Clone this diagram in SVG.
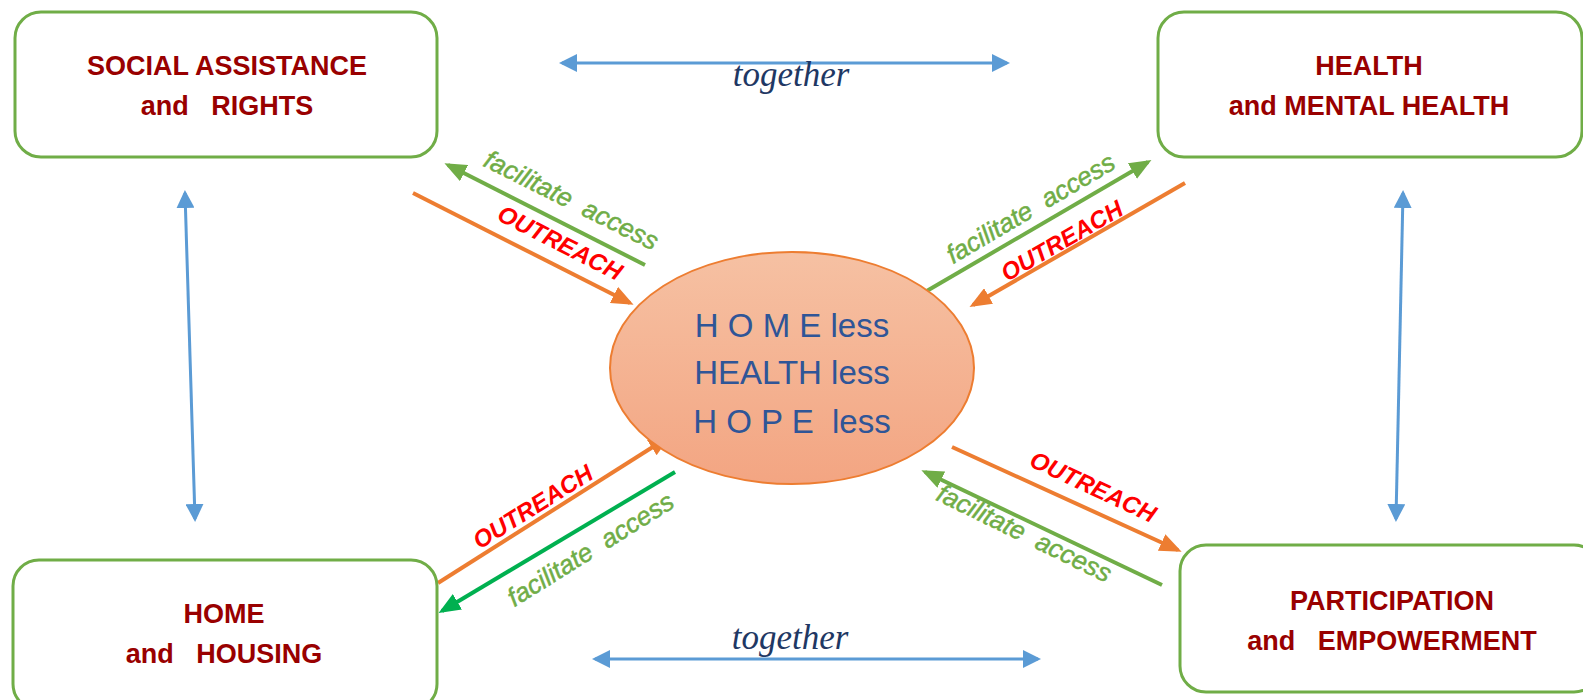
<svg xmlns="http://www.w3.org/2000/svg" width="1583" height="700" viewBox="0 0 1583 700">
<defs>
<linearGradient id="eg" x1="0" y1="0" x2="0" y2="1">
<stop offset="0" stop-color="#F6C1A3"/>
<stop offset="1" stop-color="#F3A582"/>
</linearGradient>
<marker id="ab" markerUnits="userSpaceOnUse" markerWidth="18" markerHeight="18" refX="15" refY="9" orient="auto-start-reverse" viewBox="0 0 18 18"><path d="M0,0 L18,9 L0,18 z" fill="#5B9BD5"/></marker>
<marker id="ao" markerUnits="userSpaceOnUse" markerWidth="22" markerHeight="18" refX="18" refY="9" orient="auto" viewBox="0 0 22 18"><path d="M0,0 L22,9 L0,18 z" fill="#ED7D31"/></marker>
<marker id="ag" markerUnits="userSpaceOnUse" markerWidth="22" markerHeight="18" refX="18" refY="9" orient="auto" viewBox="0 0 22 18"><path d="M0,0 L22,9 L0,18 z" fill="#70AD47"/></marker>
<marker id="ad" markerUnits="userSpaceOnUse" markerWidth="22" markerHeight="18" refX="18" refY="9" orient="auto" viewBox="0 0 22 18"><path d="M0,0 L22,9 L0,18 z" fill="#00B050"/></marker>
</defs>
<style>
.box{fill:#fff;stroke:#70AD47;stroke-width:3}
.bt{font-family:"Liberation Sans",Arial,sans-serif;font-weight:bold;font-size:27px;fill:#990000;text-anchor:middle}
.ct{font-family:"Liberation Sans",Arial,sans-serif;font-size:33px;fill:#2F5597;text-anchor:middle}
.tg{font-family:"Liberation Serif","Times New Roman",serif;font-style:italic;font-size:35px;fill:#1F3864;text-anchor:middle}
.fa{font-family:"Liberation Sans",Arial,sans-serif;font-style:italic;font-size:26px;fill:#70AD47;stroke:#70AD47;stroke-width:0.5;text-anchor:middle}
.ou{font-family:"Liberation Sans",Arial,sans-serif;font-style:italic;font-weight:bold;font-size:24px;fill:#FF0000;text-anchor:middle}
.bl{stroke:#5B9BD5;stroke-width:3;fill:none}
.or{stroke:#ED7D31;stroke-width:4;fill:none}
.gr{stroke:#70AD47;stroke-width:4;fill:none}
.dg{stroke:#00B050;stroke-width:4;fill:none}
</style>
<rect width="1583" height="700" fill="#fff"/>
<g id="connectors">
<line class="bl" x1="562" y1="63" x2="1007" y2="63" marker-start="url(#ab)" marker-end="url(#ab)"/>
<line class="bl" x1="595" y1="659" x2="1038" y2="659" marker-start="url(#ab)" marker-end="url(#ab)"/>
<line class="bl" x1="185" y1="193" x2="195" y2="519" marker-start="url(#ab)" marker-end="url(#ab)"/>
<line class="bl" x1="1403" y1="193" x2="1396" y2="519" marker-start="url(#ab)" marker-end="url(#ab)"/>
<line class="gr" x1="645" y1="265" x2="448" y2="165" marker-end="url(#ag)"/>
<line class="or" x1="413" y1="193" x2="630" y2="303" marker-end="url(#ao)"/>
<line class="gr" x1="925" y1="292" x2="1148" y2="162" marker-end="url(#ag)"/>
<line class="or" x1="1185" y1="183" x2="973" y2="305" marker-end="url(#ao)"/>
<line class="or" x1="438" y1="583" x2="667" y2="438" marker-end="url(#ao)"/>
<line class="dg" x1="675" y1="472" x2="442" y2="611" marker-end="url(#ad)"/>
<line class="or" x1="952" y1="447" x2="1178" y2="550" marker-end="url(#ao)"/>
<line class="gr" x1="1162" y1="585" x2="925" y2="472" marker-end="url(#ag)"/>
<text class="tg" x="791" y="86">together</text>
<text class="tg" x="790" y="649">together</text>
<text class="fa" transform="translate(571,201) rotate(26.5)" y="8" xml:space="preserve">facilitate  access</text>
<text class="ou" transform="translate(560,243) rotate(27)" y="8">OUTREACH</text>
<text class="fa" transform="translate(1031,209) rotate(-30.5)" y="8" xml:space="preserve">facilitate  access</text>
<text class="ou" transform="translate(1062,241) rotate(-30)" y="8">OUTREACH</text>
<text class="ou" transform="translate(533,507) rotate(-32)" y="8">OUTREACH</text>
<text class="fa" transform="translate(591,550) rotate(-32)" y="8" xml:space="preserve">facilitate  access</text>
<text class="ou" transform="translate(1093,487) rotate(25)" y="8">OUTREACH</text>
<text class="fa" transform="translate(1024,534) rotate(26)" y="8" xml:space="preserve">facilitate  access</text>
</g>
<g id="center">
<ellipse cx="792" cy="368" rx="182" ry="116" fill="url(#eg)" stroke="#ED7D31" stroke-width="2"/>
<text class="ct" x="792" y="337" xml:space="preserve">H O M E less</text>
<text class="ct" x="792" y="384">HEALTH less</text>
<text class="ct" x="792" y="433" xml:space="preserve">H O P E  less</text>
</g>
<g id="social">
<rect class="box" x="15" y="12" width="422" height="145" rx="26"/>
<text class="bt" x="227" y="75">SOCIAL ASSISTANCE</text>
<text class="bt" x="227" y="115" xml:space="preserve">and   RIGHTS</text>
</g>
<g id="health">
<rect class="box" x="1158" y="12" width="424" height="145" rx="26"/>
<text class="bt" x="1369" y="75">HEALTH</text>
<text class="bt" x="1369" y="115">and MENTAL HEALTH</text>
</g>
<g id="home">
<rect class="box" x="13" y="560" width="424" height="150" rx="26"/>
<text class="bt" x="224" y="623">HOME</text>
<text class="bt" x="224" y="663" xml:space="preserve">and   HOUSING</text>
</g>
<g id="participation">
<rect class="box" x="1180" y="545" width="420" height="147" rx="26"/>
<text class="bt" x="1392" y="610">PARTICIPATION</text>
<text class="bt" x="1392" y="650" xml:space="preserve">and   EMPOWERMENT</text>
</g>
</svg>
